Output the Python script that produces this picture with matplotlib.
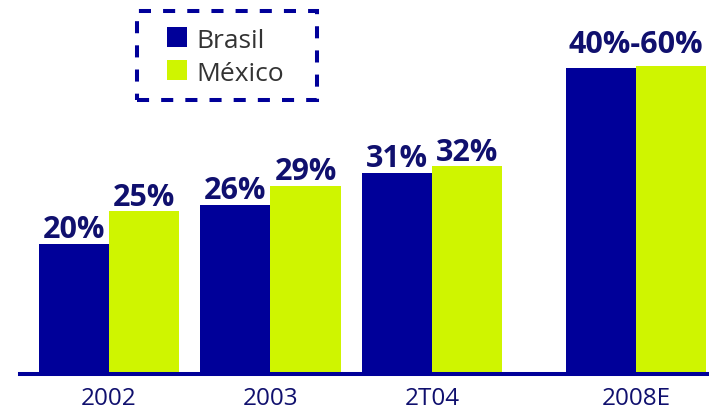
import matplotlib
matplotlib.use("Agg")
from matplotlib import pyplot as plt
from matplotlib.patches import Rectangle

plt.rcParams['font.family'] = ['Open Sans', 'DejaVu Sans']

# data
periods = ['2002', '2003', '2T04', '2008E']
series = ['Brasil', 'México']
brasil = [20, 26, 31, 47.3]
mexico = [25, 29, 32, 47.7]
brasil_labels = ['20%', '26%', '31%', '']
mexico_labels = ['25%', '29%', '32%', '']
range_label = '40%-60%'

# layout / style
group_pos = [0, 1, 2, 3.263]
w = 0.435
c_bra = '#000099'
c_mex = '#cff500'
c_txt = '#10106e'

W, H = 709, 412
fig = plt.figure(figsize=(W / 100, H / 100), dpi=100)
ax = fig.add_axes([20 / W, 40 / H, 689 / W, 372 / H])
ax.set_xlim(-0.551, -0.551 + 689 / 161.5)
ax.set_ylim(0, 57.9)
ax.axis('off')

xb = [p - w / 2 for p in group_pos]
xm = [p + w / 2 for p in group_pos]
ax.bar(xb, brasil, width=w, color=c_bra, linewidth=0)
ax.bar(xm, mexico, width=w, color=c_mex, linewidth=0)
ax.axhline(-0.31, color=c_bra, lw=2.9, clip_on=False)

for x, v, t in zip(xb, brasil, brasil_labels):
    if t:
        ax.text(x, v + 0.9, t, ha='center', va='baseline', fontsize=22,
                fontweight='bold', color=c_txt)
for x, v, t in zip(xm, mexico, mexico_labels):
    if t:
        ax.text(x, v + 0.9, t, ha='center', va='baseline', fontsize=22,
                fontweight='bold', color=c_txt)
ax.text(group_pos[3], 49.7, range_label, ha='center', va='baseline', fontsize=22,
        fontweight='bold', color=c_txt)

# x labels
for p, lab in zip(group_pos, periods):
    ax.text(p, -33 / 372, lab, transform=ax.get_xaxis_transform(), ha='center',
            va='baseline', fontsize=17.5, color=c_txt)


# legend drawn by hand in pixel coords (dashed frame)
def fx(px):
    return px / W


def fy(py):
    return 1 - py / H


fig.add_artist(Rectangle((fx(137), fy(100)), fx(317) - fx(137), fy(11) - fy(100),
                         transform=fig.transFigure, fill=False, edgecolor=c_bra,
                         lw=2.9, linestyle=(0, (3, 3))))
for (y0, y1, col, name) in [(27, 47, c_bra, series[0]), (60, 80, c_mex, series[1])]:
    fig.add_artist(Rectangle((fx(167), fy(y1)), fx(187) - fx(167), fy(y0) - fy(y1),
                             transform=fig.transFigure, color=col, lw=0))
    fig.text(fx(196), fy(y1 + 1), name, ha='left', va='baseline', fontsize=19,
             color='#333333')

fig.savefig('out.png', dpi=100)
